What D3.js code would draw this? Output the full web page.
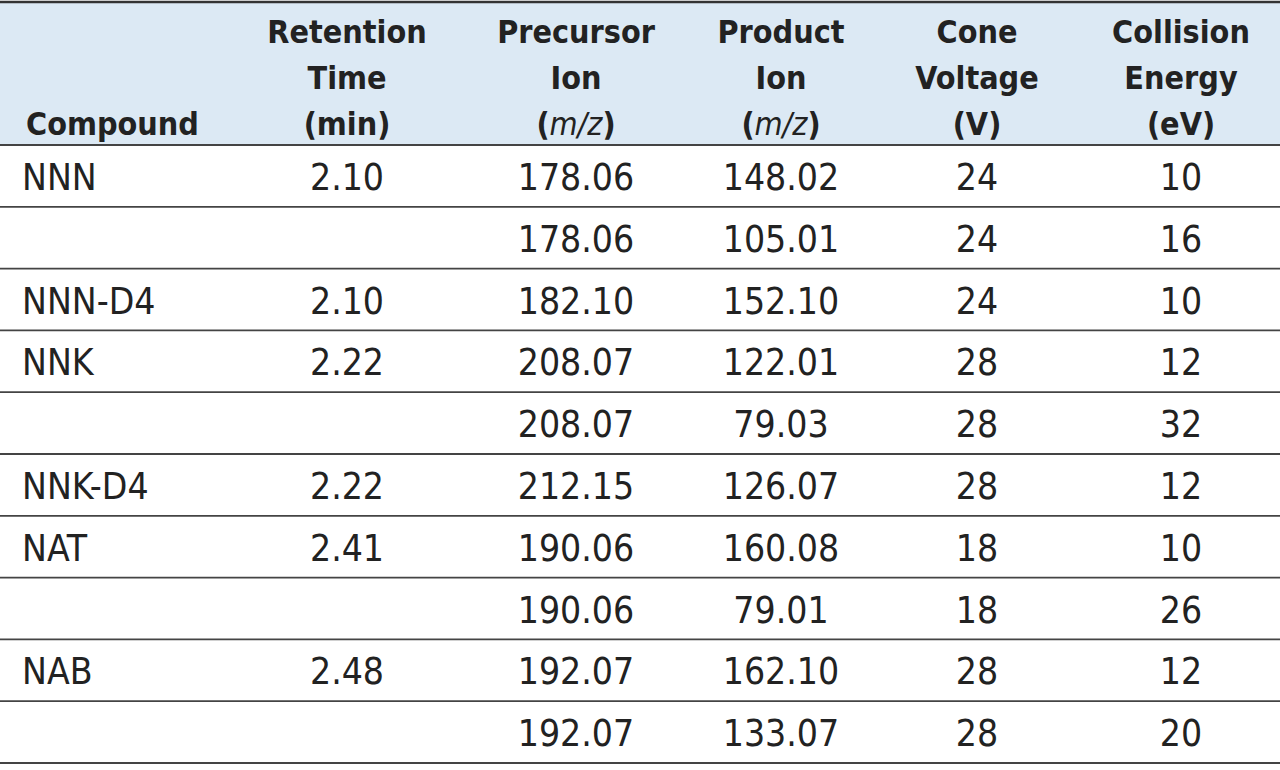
<!DOCTYPE html>
<html><head><meta charset="utf-8">
<script src="https://cdn.jsdelivr.net/npm/d3@7"></script>
<style>body{margin:0;background:#fff}svg{display:block}</style>
</head><body>
<svg id="c" width="1280" height="770"></svg>
<script>
const headers = [
  ["Compound"],
  ["Retention","Time","(min)"],
  ["Precursor","Ion","(m/z)"],
  ["Product","Ion","(m/z)"],
  ["Cone","Voltage","(V)"],
  ["Collision","Energy","(eV)"]
];
const compounds = ["NNN","","NNN-D4","NNK","","NNK-D4","NAT","","NAB",""];
const retention = ["2.10","","2.10","2.22","","2.22","2.41","","2.48",""];
const precursor = ["178.06","178.06","182.10","208.07","208.07","212.15","190.06","190.06","192.07","192.07"];
const product = ["148.02","105.01","152.10","122.01","79.03","126.07","160.08","79.01","162.10","133.07"];
const cone = ["24","24","24","28","28","28","18","18","28","28"];
const collision = ["10","16","10","12","32","12","10","26","12","20"];

const svg = d3.select("#c");
const font = "'DejaVu Sans Condensed','Liberation Sans Narrow',Roboto,sans-serif";
const headerTop = 2, headerBottom = 145, tableBottom = 763;
const y = d3.scaleBand().domain(d3.range(compounds.length)).range([headerBottom, tableBottom]);
const colX = [26, 347, 576, 781, 977, 1181];

svg.append("rect").attr("x",0).attr("y",headerTop).attr("width",1280).attr("height",headerBottom-headerTop).attr("fill","#dce9f4");
svg.append("line").attr("x1",0).attr("x2",1280).attr("y1",headerTop).attr("y2",headerTop).attr("stroke","#333").attr("stroke-width",2.5);

const hb = [43, 89, 135];
headers.forEach((h,i)=>{
  const t = svg.append("text").attr("font-family",font).attr("font-weight","bold").attr("font-size",32)
    .attr("fill","#222").attr("text-anchor", i===0?"start":"middle");
  h.forEach((line,j)=>{
    const baseline = hb[3-h.length+j];
    const ts = t.append("tspan").attr("x",colX[i]).attr("y",baseline);
    const m = line.match(/^\((m\/z)\)$/);
    if(m){ ts.text("("); ts.append("tspan").attr("font-style","italic").attr("font-weight","normal").text("m/z"); ts.append("tspan").text(")"); }
    else ts.text(line);
  });
});

const cols = [compounds, retention, precursor, product, cone, collision];
const bx = [22, 347, 576, 781, 977, 1181];
compounds.forEach((_,r)=>{
  const yc = y(r) + y.bandwidth()/2 + 14;
  cols.forEach((c,i)=>{
    if(!c[r]) return;
    svg.append("text").attr("x",bx[i]).attr("y",yc).attr("font-family",font).attr("font-size",37)
      .attr("fill","#222").attr("text-anchor", i===0?"start":"middle").text(c[r]);
  });
});
[headerBottom, ...compounds.map((_,r)=>y(r)+y.bandwidth())].forEach(v=>{
  svg.append("line").attr("x1",0).attr("x2",1280).attr("y1",v).attr("y2",v).attr("stroke","#444").attr("stroke-width",1.8);
});
</script>
</body></html>
